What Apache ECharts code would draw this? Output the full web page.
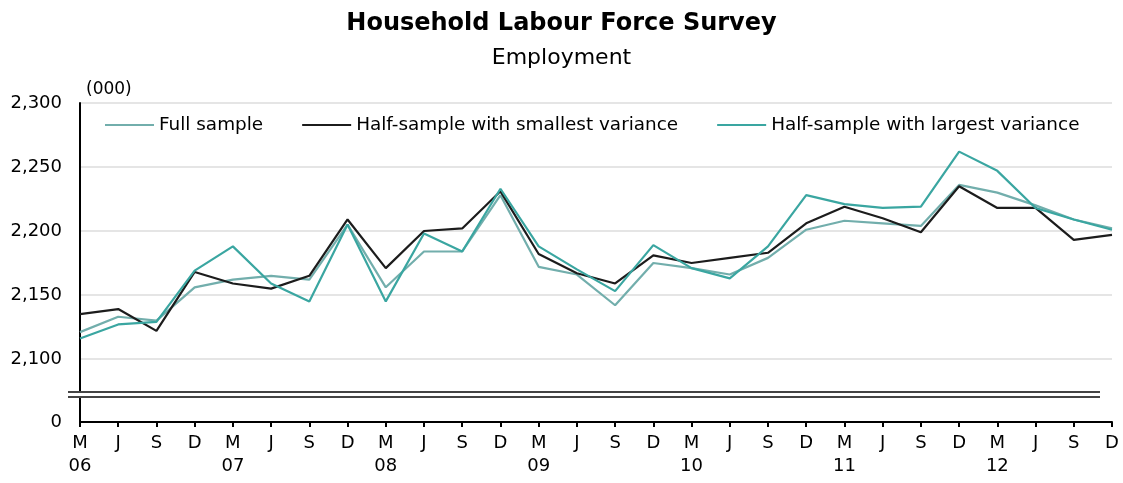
<!DOCTYPE html>
<html>
<head>
<meta charset="utf-8">
<script src="https://cdn.jsdelivr.net/npm/echarts@6/dist/echarts.min.js"></script>
<style>
  html, body { margin: 0; padding: 0; background: #fff; }
  #chart { width: 1123px; height: 483px; }
</style>
</head>
<body>
<div id="chart"></div>
<script>
var categories = [
  'M06', 'J06', 'S06', 'D06',
  'M07', 'J07', 'S07', 'D07',
  'M08', 'J08', 'S08', 'D08',
  'M09', 'J09', 'S09', 'D09',
  'M10', 'J10', 'S10', 'D10',
  'M11', 'J11', 'S11', 'D11',
  'M12', 'J12', 'S12', 'D12'
]
var fullSample = [2121, 2133, 2130, 2156, 2162, 2165, 2162, 2205, 2156, 2184, 2184, 2228, 2172, 2166,
  2142, 2175, 2171, 2166, 2179, 2201, 2208, 2206, 2204, 2236, 2230, 2220, 2209, 2202]
var smallestVar = [2135, 2139, 2122, 2168, 2159, 2155, 2165, 2209, 2171, 2200, 2202, 2231, 2182, 2167,
  2159, 2181, 2175, 2179, 2183, 2206, 2219, 2210, 2199, 2235, 2218, 2218, 2193, 2197]
var largestVar = [2116, 2127, 2129, 2169, 2188, 2159, 2145, 2205, 2145, 2198, 2184, 2233, 2188, 2170,
  2153, 2189, 2171, 2163, 2188, 2228, 2221, 2218, 2219, 2262, 2247, 2218, 2209, 2201]
var seriesNames = ['Full sample', 'Half-sample with smallest variance', 'Half-sample with largest variance']

var font = 'DejaVu Sans'
var myChart = echarts.init(document.getElementById('chart'))

myChart.setOption({
  animation: false,
  backgroundColor: '#fff',
  textStyle: { fontFamily: font },
  title: [
    {
      text: 'Household Labour Force Survey',
      left: 'center',
      top: 7,
      textStyle: { fontFamily: font, fontSize: 24, fontWeight: 'bold', color: '#000' }
    },
    {
      text: 'Employment',
      left: 'center',
      top: 42,
      textStyle: { fontFamily: font, fontSize: 22, fontWeight: 'normal', color: '#000' }
    },
    {
      text: '(000)',
      left: 81,
      top: 76,
      textStyle: { fontFamily: font, fontSize: 17, fontWeight: 'normal', color: '#000' }
    }
  ],
  legend: {
    data: seriesNames,
    left: 100,
    top: 111,
    icon: 'rect',
    itemWidth: 49,
    itemHeight: 2,
    itemGap: 39,
    textStyle: { fontFamily: font, fontSize: 18.4, color: '#000' }
  },
  grid: [
    { left: 80, right: 11, top: 103, height: 256 },
    { left: 80, right: 11, top: 359, height: 63 }
  ],
  xAxis: [
    {
      gridIndex: 0,
      type: 'category',
      data: categories,
      boundaryGap: false,
      axisLine: { show: false },
      axisTick: { show: false },
      axisLabel: { show: false },
      splitLine: { show: false }
    },
    {
      gridIndex: 1,
      type: 'category',
      data: categories,
      boundaryGap: false,
      axisLine: { lineStyle: { color: '#000', width: 2 } },
      axisTick: { show: true, length: 5, lineStyle: { color: '#000', width: 2 } },
      axisLabel: {
        interval: 0,
        margin: 10,
        fontFamily: font,
        fontSize: 18,
        lineHeight: 23,
        color: '#000',
        formatter: function(v) {
          var q = v.charAt(0)
          return q === 'M' ? q + '\n' + v.slice(1) : q
        }
      }
    }
  ],
  yAxis: [
    {
      gridIndex: 0,
      type: 'value',
      min: 2100,
      max: 2300,
      interval: 50,
      axisLine: { show: true, lineStyle: { color: '#000', width: 2 } },
      axisTick: { show: false },
      splitLine: { lineStyle: { color: '#dcdcdc', width: 1.5 } },
      axisLabel: {
        margin: 18,
        fontFamily: font,
        fontSize: 18,
        color: '#000',
        formatter: function(v) {
          return echarts.format.addCommas(v)
        }
      }
    },
    {
      gridIndex: 1,
      type: 'value',
      min: 0,
      max: 1,
      interval: 1,
      axisLine: { show: true, lineStyle: { color: '#000', width: 2 } },
      axisTick: { show: false },
      splitLine: { show: false },
      axisLabel: {
        margin: 18,
        fontFamily: font,
        fontSize: 18,
        color: '#000',
        formatter: function(v) {
          return v === 0 ? '0' : ''
        }
      }
    }
  ],
  // axis break marks
  graphic: [
    { type: 'rect', z: 100, shape: { x: 68, y: 392, width: 1032, height: 5 }, style: { fill: '#fff' } },
    { type: 'line', z: 101, shape: { x1: 68, y1: 392, x2: 1100, y2: 392 }, style: { stroke: '#444', lineWidth: 1.8 } },
    { type: 'line', z: 101, shape: { x1: 68, y1: 397, x2: 1100, y2: 397 }, style: { stroke: '#444', lineWidth: 1.8 } }
  ],
  series: [
    {
      name: seriesNames[0],
      type: 'line',
      data: fullSample,
      symbol: 'none',
      lineStyle: { color: '#72aeac', width: 2.2 },
      itemStyle: { color: '#72aeac' }
    },
    {
      name: seriesNames[1],
      type: 'line',
      data: smallestVar,
      symbol: 'none',
      lineStyle: { color: '#1c1c1c', width: 2.2 },
      itemStyle: { color: '#1c1c1c' }
    },
    {
      name: seriesNames[2],
      type: 'line',
      data: largestVar,
      symbol: 'none',
      lineStyle: { color: '#3aa6a1', width: 2.2 },
      itemStyle: { color: '#3aa6a1' }
    }
  ]
})
</script>
</body>
</html>
